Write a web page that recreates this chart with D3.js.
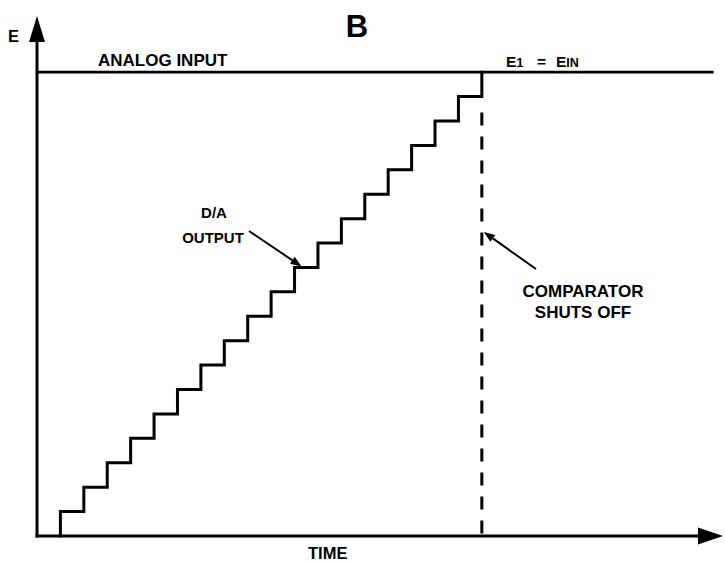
<!DOCTYPE html>
<html>
<head>
<meta charset="utf-8">
<script src="https://cdn.jsdelivr.net/npm/d3@7"></script>
<style>
  html, body { margin: 0; padding: 0; background: #fff; }
  svg { display: block; }
  text { font-family: "Liberation Sans", Arial, Helvetica, sans-serif; font-weight: bold; fill: #000; }
</style>
</head>
<body>
<script>
// Counter-ramp A/D conversion: the D/A output climbs one code per clock
// until it reaches the analog input, where the comparator shuts off.
const clockTimes = [1, 2, 3, 4, 5, 6, 7, 8, 9, 10, 11, 12, 13, 14, 15, 16, 17, 18, 19];
const dacCodes   = [1, 2, 3, 4, 5, 6, 7, 8, 9, 10, 11, 12, 13, 14, 15, 16, 17, 18, 19];
const analogInput = 19;          // E_IN, in D/A code units
const analogSpan = [0, 28.9];    // time extent of the analog input trace
const shutoffTime = 19;          // comparator shuts off here
const timeExtent = [0, 29.3];    // time axis incl. arrow
const levelExtent = [0, 21.3];   // voltage axis incl. arrow

const W = 725, H = 561;
const svg = d3.select("body").append("svg").attr("width", W).attr("height", H);

const x = d3.scaleLinear().domain(timeExtent).range([37, 723]);
const y = d3.scaleLinear().domain(levelExtent).range([536, 16]);

// ---- axes with arrowheads ----
const axisX = d3.axisBottom(x).tickValues([]).tickSizeOuter(0);
const axisY = d3.axisLeft(y).tickValues([]).tickSizeOuter(0);
const gx = svg.append("g").attr("transform", `translate(0,${y(0)})`).call(axisX);
const gy = svg.append("g").attr("transform", `translate(${x(0)},0)`).call(axisY);
[gx, gy].forEach(g => g.select(".domain").attr("stroke", "#000").attr("stroke-width", 3));
gx.select(".domain").attr("d", `M${x(0) - 1.5},0H${x(timeExtent[1]) - 20}`);
gy.select(".domain").attr("d", `M0,${y(0) + 1.5}V${y(levelExtent[1]) + 20}`);

const tipX = x(timeExtent[1]), tipY = y(levelExtent[1]);
svg.append("path")
  .attr("d", `M${tipX},${y(0)}L${tipX - 25},${y(0) - 8.5}L${tipX - 25},${y(0) + 8.5}Z`)
  .attr("fill", "#000");
svg.append("path")
  .attr("d", `M${x(0)},${tipY}L${x(0) - 8},${tipY + 26}L${x(0) + 8},${tipY + 26}Z`)
  .attr("fill", "#000");

// ---- analog input level ----
svg.append("line")
  .attr("x1", x(analogSpan[0])).attr("x2", x(analogSpan[1]))
  .attr("y1", y(analogInput)).attr("y2", y(analogInput))
  .attr("stroke", "#000").attr("stroke-width", 2.6);

// ---- D/A staircase ----
const stairPts = [{ t: clockTimes[0], v: 0 }].concat(
  clockTimes.map((t, i) => ({ t, v: dacCodes[i] })));
const stairLine = d3.line().x(d => x(d.t)).y(d => y(d.v)).curve(d3.curveStepAfter);
svg.append("path")
  .datum(stairPts)
  .attr("d", stairLine)
  .attr("fill", "none").attr("stroke", "#000")
  .attr("stroke-width", 3).attr("stroke-linejoin", "miter").attr("stroke-linecap", "square");

// ---- comparator shut-off marker (dashed, from below the last step down to the axis) ----
svg.append("line")
  .attr("x1", x(shutoffTime)).attr("x2", x(shutoffTime))
  .attr("y1", y(dacCodes[dacCodes.length - 2]) + 16).attr("y2", y(0))
  .attr("stroke", "#000").attr("stroke-width", 3)
  .attr("stroke-dasharray", "13,11");

// ---- annotation arrows ----
function arrow(x1, y1, x2, y2) {
  const a = Math.atan2(y2 - y1, x2 - x1), L = 11, hw = 4.2;
  const bx = x2 - L * Math.cos(a), by = y2 - L * Math.sin(a);
  svg.append("line").attr("x1", x1).attr("y1", y1).attr("x2", bx).attr("y2", by)
    .attr("stroke", "#000").attr("stroke-width", 2);
  svg.append("path")
    .attr("d", `M${x2},${y2}L${bx + hw * Math.sin(a)},${by - hw * Math.cos(a)}L${bx - hw * Math.sin(a)},${by + hw * Math.cos(a)}Z`)
    .attr("fill", "#000");
}
arrow(249, 231, x(11) + 7, y(11) - 1);
arrow(536, 269, x(shutoffTime) + 2, y(12.45));

// ---- labels ----
svg.append("text").attr("x", 357).attr("y", 37).attr("text-anchor", "middle")
  .attr("font-size", 31).text("B");
svg.append("text").attr("x", 8).attr("y", 42).attr("font-size", 16.5).text("E");
svg.append("text").attr("x", 98).attr("y", 66).attr("font-size", 17).text("ANALOG INPUT");

const eq = svg.append("text").attr("y", 67).attr("font-size", 15.5);
eq.append("tspan").attr("x", 506).text("E");
eq.append("tspan").attr("font-size", 13).text("1");
eq.append("tspan").attr("x", 537).text("=");
eq.append("tspan").attr("x", 556).text("E");
eq.append("tspan").attr("font-size", 12.5).text("IN");

svg.append("text").attr("x", 308).attr("y", 559).attr("font-size", 16.5).text("TIME");

svg.append("text").attr("x", 214).attr("y", 218).attr("text-anchor", "middle")
  .attr("font-size", 15).text("D/A");
svg.append("text").attr("x", 213).attr("y", 243).attr("text-anchor", "middle")
  .attr("font-size", 15).text("OUTPUT");

svg.append("text").attr("x", 583).attr("y", 297).attr("text-anchor", "middle")
  .attr("font-size", 17).text("COMPARATOR");
svg.append("text").attr("x", 583).attr("y", 318).attr("text-anchor", "middle")
  .attr("font-size", 17).text("SHUTS OFF");
</script>
</body>
</html>
